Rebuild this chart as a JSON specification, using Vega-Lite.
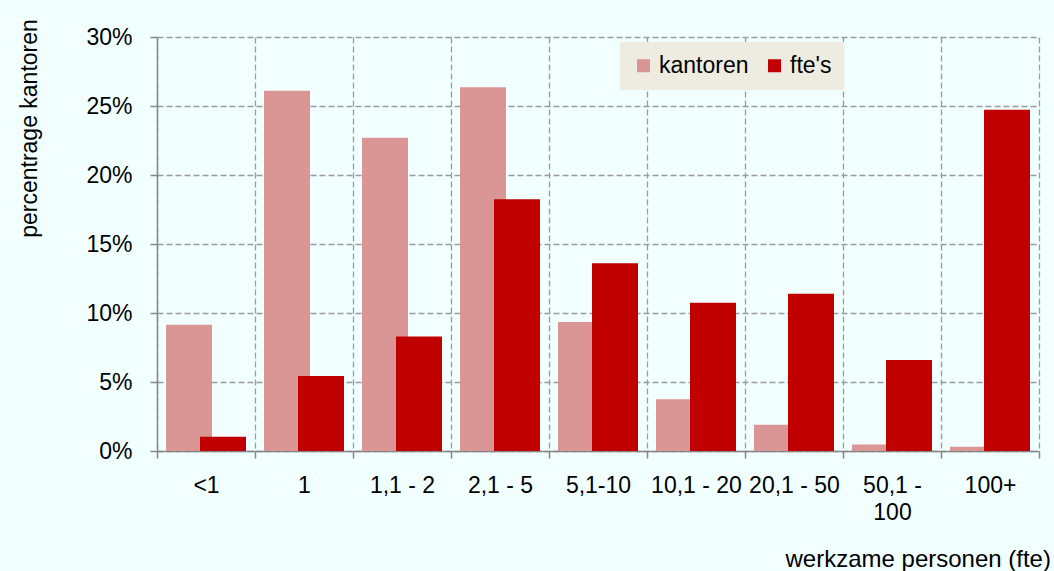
{
  "$schema": "https://vega.github.io/schema/vega-lite/v6.json",
  "width": 882,
  "height": 414,
  "autosize": {"type": "none"},
  "padding": {"left": 157, "top": 37, "right": 15, "bottom": 120},
  "background": "#F2FFFF",
  "config": {
    "font": "Liberation Sans",
    "view": {"stroke": null},
    "axis": {
      "labelFont": "Liberation Sans",
      "titleFont": "Liberation Sans",
      "labelFontSize": 23,
      "titleFontSize": 23,
      "titleFontWeight": "normal",
      "labelColor": "#000000",
      "titleColor": "#000000",
      "domainColor": "#868686",
      "domainWidth": 1.5,
      "tickColor": "#868686",
      "tickWidth": 1.5,
      "tickSize": 7,
      "gridColor": "#9A9A9A",
      "gridDash": [6, 3],
      "gridWidth": 1.3,
      "gridOpacity": 1
    },
    "legend": {"labelFont": "Liberation Sans"}
  },
  "data": {
    "values": [
      {"cat": "<1", "series": "kantoren", "value": 0.0914},
      {"cat": "1", "series": "kantoren", "value": 0.261},
      {"cat": "1,1 - 2", "series": "kantoren", "value": 0.227},
      {"cat": "2,1 - 5", "series": "kantoren", "value": 0.2635},
      {"cat": "5,1-10", "series": "kantoren", "value": 0.0935},
      {"cat": "10,1 - 20", "series": "kantoren", "value": 0.0375},
      {"cat": "20,1 - 50", "series": "kantoren", "value": 0.019},
      {"cat": "50,1 - 100", "series": "kantoren", "value": 0.0047},
      {"cat": "100+", "series": "kantoren", "value": 0.0031},
      {"cat": "<1", "series": "fte's", "value": 0.0104},
      {"cat": "1", "series": "fte's", "value": 0.0544},
      {"cat": "1,1 - 2", "series": "fte's", "value": 0.083},
      {"cat": "2,1 - 5", "series": "fte's", "value": 0.1825},
      {"cat": "5,1-10", "series": "fte's", "value": 0.136},
      {"cat": "10,1 - 20", "series": "fte's", "value": 0.1075},
      {"cat": "20,1 - 50", "series": "fte's", "value": 0.114},
      {"cat": "50,1 - 100", "series": "fte's", "value": 0.066},
      {"cat": "100+", "series": "fte's", "value": 0.2473}
    ]
  },
  "encoding": {
    "x": {
      "field": "cat",
      "type": "nominal",
      "sort": null,
      "scale": {"paddingInner": 0, "paddingOuter": 0},
      "axis": {
        "title": "werkzame personen (fte)",
        "titleFontSize": 24,
        "labelAngle": 0,
        "labelPadding": 16,
        "labelBaseline": "top",
        "labelLineHeight": 27,
        "labelExpr": "datum.value == '50,1 - 100' ? ['50,1 -', '100'] : datum.value",
        "tickBand": "extent",
        "grid": true,
        "titleAnchor": null,
        "titleX": 628,
        "titleY": 115,
        "titleAlign": "left",
        "titleBaseline": "alphabetic"
      }
    },
    "y": {
      "field": "value",
      "type": "quantitative",
      "scale": {"domain": [0, 0.3], "nice": false},
      "axis": {
        "title": "percentrage kantoren",
        "format": ".0%",
        "values": [0, 0.05, 0.1, 0.15, 0.2, 0.25, 0.3],
        "labelPadding": 18,
        "grid": true,
        "titleAngle": -90,
        "titleX": -128,
        "titleY": 91,
        "titleAlign": "center",
        "titleBaseline": "middle"
      }
    },
    "color": {
      "field": "series",
      "type": "nominal",
      "scale": {"domain": ["kantoren", "fte's"], "range": ["#D99694", "#C00000"]},
      "legend": {
        "title": null,
        "orient": "none",
        "legendX": 463,
        "legendY": 5,
        "direction": "horizontal",
        "fillColor": "#EEECE1",
        "padding": 12,
        "symbolType": "square",
        "symbolSize": 169,
        "symbolStrokeWidth": 0,
        "symbolOpacity": 1,
        "labelFontSize": 23,
        "labelColor": "#000000",
        "labelOffset": 4,
        "columnPadding": 14
      }
    }
  },
  "layer": [
    {
      "transform": [{"filter": "datum.series == 'kantoren'"}],
      "mark": {"type": "bar", "width": 46, "xOffset": -17, "opacity": 1}
    },
    {
      "transform": [{"filter": "datum.series == \"fte's\""}],
      "mark": {"type": "bar", "width": 46, "xOffset": 17, "opacity": 1}
    }
  ]
}
